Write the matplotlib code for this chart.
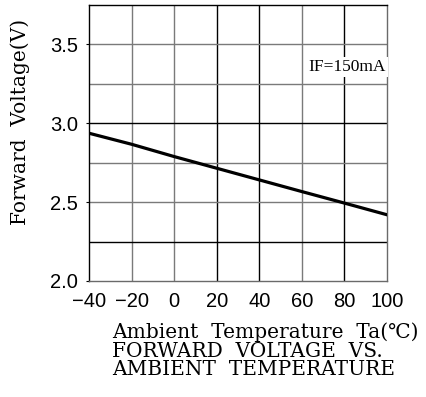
import matplotlib; matplotlib.use('Agg')
import matplotlib.pyplot as plt
import numpy as np

# data
temp = [-40, -20, 0, 20, 40, 60, 80, 100]
vf = [2.937, 2.867, 2.789, 2.715, 2.641, 2.567, 2.494, 2.42]
xticks = [-40, -20, 0, 20, 40, 60, 80, 100]
yticks = [2.0, 2.5, 3.0, 3.5]
ygrid = [2.25, 2.5, 2.75, 3.0, 3.25, 3.5]
dark_x = [20, 40, 80]
dark_y = [2.25, 3.0]

serif = 'DejaVu Serif'
sans = 'Liberation Sans'

fig = plt.figure(figsize=(4.26, 3.97), dpi=100)
ax = fig.add_axes([89/426, 1-281/397, (387-89)/426, (281-5)/397])

for x in xticks[1:-1]:
    ax.axvline(x, color='k' if x in dark_x else '#7a7a7a', lw=1.0, zorder=1)
for y in ygrid:
    ax.axhline(y, color='k' if y in dark_y else '#7a7a7a', lw=1.0, zorder=1)

ax.plot(temp, vf, color='k', lw=2.3, zorder=3)

ax.set_xlim(-40, 100)
ax.set_ylim(2.0, 3.75)
ax.set_xticks(xticks)
ax.set_yticks(yticks)
ax.set_xticklabels([f'{t}'.replace('-', '\u2212') for t in xticks], fontfamily=sans, fontsize=14.5)
ax.set_yticklabels([f'{v:.1f}' for v in yticks], fontfamily=sans, fontsize=14.5)
ax.tick_params(axis='x', length=0, pad=8)
ax.tick_params(axis='y', length=2, pad=6)
for s in ['left', 'top']:
    ax.spines[s].set_color('k')
for s in ['right', 'bottom']:
    ax.spines[s].set_color('#6a6a6a')
for s in ax.spines.values():
    s.set_linewidth(1.0)

ax.text(0.995, 0.775, 'IF=150mA', transform=ax.transAxes, ha='right', va='center',
        fontfamily='Liberation Serif', fontsize=12.5, zorder=4,
        bbox=dict(facecolor='white', edgecolor='none', pad=1.5))

fig.text(20/426, 1-122/397, 'Forward  Voltage(V)', rotation=90, ha='center', va='center',
         fontfamily=serif, fontsize=14.5)
fig.text(112/426, 1-338/397, 'Ambient  Temperature  Ta(\u2103)', ha='left', va='baseline',
         fontfamily=[serif, 'DejaVu Sans'], fontsize=14.5)
fig.text(112/426, 1-357/397, 'FORWARD  VOLTAGE  VS.', ha='left', va='baseline',
         fontfamily=serif, fontsize=14.5)
fig.text(112/426, 1-375/397, 'AMBIENT  TEMPERATURE', ha='left', va='baseline',
         fontfamily=serif, fontsize=14.5)

plt.savefig('out.png', dpi=100)
plt.close()
